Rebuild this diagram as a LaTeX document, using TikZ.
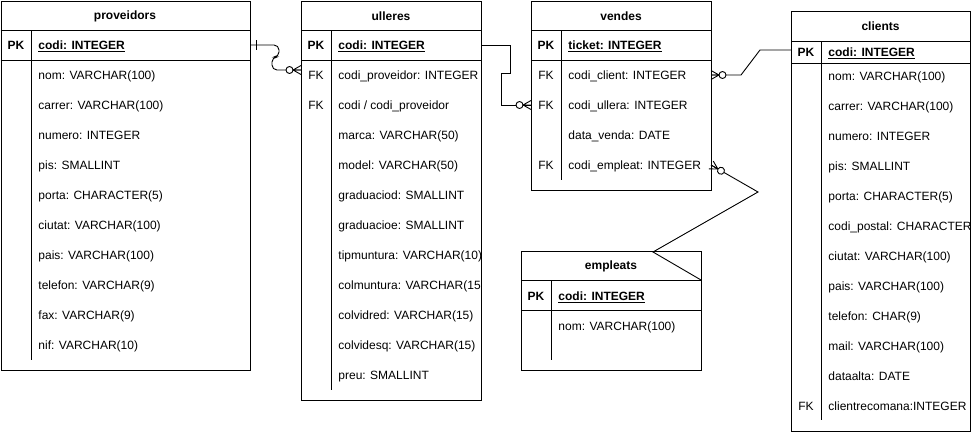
\documentclass[tikz,border=0pt]{standalone}
\usepackage{fontspec}
\setmainfont{Liberation Sans}

\begin{document}
\begin{tikzpicture}[x=1pt,y=-1pt,line width=0.9pt,
  font=\fontsize{12}{14}\selectfont,
  every node/.style={inner sep=0pt},
  taula/.style={draw,anchor=north west,line width=0.9pt},
  titol/.style={font=\fontsize{12}{14}\selectfont\bfseries},
  clau/.style={anchor=base},
  camp/.style={anchor=base west},
  zeromolts/.pic={
    \draw (0,-4.5) -- (8,0) -- (0,4.5) (0,0) -- (8,0);
    \draw[fill=white] (11.5,0) circle (3.5);
  }]
\useasboundingbox (0,0) rectangle (971,431);

% proveidors
\node[taula,minimum width=249.5pt,minimum height=369.5pt] (proveidors) at (0.5,0.5) {};
\draw (0.5,30) -- (250,30) (0.5,60) -- (250,60) (31,30) -- (31,360);
\node[titol] (proveidors-titol) at (125,16) {proveidors};
\node[titol,clau] (proveidors-pk) at (16,49.3) {PK};
\node[titol,camp] (proveidors-codi) at (38,49.3) {\underline{codi: INTEGER}};
\foreach \camp [count=\i from 0] in {nom: VARCHAR(100), carrer: VARCHAR(100),
    numero: INTEGER, pis: SMALLINT, porta: CHARACTER(5), ciutat: VARCHAR(100),
    pais: VARCHAR(100), telefon: VARCHAR(9), fax: VARCHAR(9), nif: VARCHAR(10)}
  \node[camp] (proveidors-\i) at (38,{79.3+30*\i}) {\camp};

% ulleres
\node[taula,minimum width=180pt,minimum height=399.5pt] (ulleres) at (301,0.5) {};
\draw (301,30) -- (481,30) (301,60) -- (481,60) (331,30) -- (331,390);
\node[titol] (ulleres-titol) at (391,16) {ulleres};
\node[titol,clau] (ulleres-pk) at (316,49.3) {PK};
\node[titol,camp] (ulleres-codi) at (338,49.3) {\underline{codi: INTEGER}};
\node[clau] (ulleres-fk1) at (316,79.3) {FK};
\node[clau] (ulleres-fk2) at (316,109.3) {FK};
\begin{scope}
\clip (331,60) rectangle (480.5,400);
\foreach \camp [count=\i from 0] in {codi\_proveidor: INTEGER, {codi / codi\_proveidor},
    marca: VARCHAR(50), model: VARCHAR(50), graduaciod: SMALLINT,
    graduacioe: SMALLINT, tipmuntura: VARCHAR(10), colmuntura: VARCHAR(15,
    colvidred: VARCHAR(15), colvidesq: VARCHAR(15), preu: SMALLINT}
  \node[camp] (ulleres-\i) at (338,{79.3+30*\i}) {\camp};
\end{scope}

% vendes
\node[taula,minimum width=180pt,minimum height=189.5pt] (vendes) at (531,0.5) {};
\draw (531,30) -- (711,30) (531,60) -- (711,60) (561,30) -- (561,180);
\node[titol] (vendes-titol) at (621,16) {vendes};
\node[titol,clau] (vendes-pk) at (546,49.3) {PK};
\node[titol,camp] (vendes-ticket) at (568,49.3) {\underline{ticket: INTEGER}};
\foreach \camp [count=\i from 0] in {codi\_client: INTEGER, codi\_ullera: INTEGER,
    data\_venda: DATE, codi\_empleat: INTEGER}
  \node[camp] (vendes-\i) at (568,{79.3+30*\i}) {\camp};
\foreach \i in {0,1,3}
  \node[clau] (vendes-fk\i) at (546,{79.3+30*\i}) {FK};

% clients
\node[taula,minimum width=179pt,minimum height=419.5pt] (clients) at (791,11) {};
\draw (791,41) -- (970,41) (791,63) -- (970,63) (821,41) -- (821,420);
\node[titol] (clients-titol) at (880.5,26) {clients};
\node[titol,clau] (clients-pk) at (806,56.3) {PK};
\node[titol,camp] (clients-codi) at (828,56.3) {\underline{codi: INTEGER}};
\node[clau] (clients-fk) at (806,410.3) {FK};
\begin{scope}
\clip (821,63) rectangle (969.5,430);
\foreach \camp [count=\i from 0] in {nom: VARCHAR(100), carrer: VARCHAR(100),
    numero: INTEGER, pis: SMALLINT, porta: CHARACTER(5), codi\_postal: CHARACTER,
    ciutat: VARCHAR(100), pais: VARCHAR(100), telefon: CHAR(9), mail: VARCHAR(100),
    dataalta: DATE, clientrecomana:INTEGER}
  \node[camp] (clients-\i) at (828,{80.3+30*\i}) {\camp};
\end{scope}

% empleats
\node[taula,minimum width=180pt,minimum height=119pt] (empleats) at (521,251) {};
\draw (521,280) -- (701,280) (521,310) -- (701,310) (551,280) -- (551,360);
\node[titol] (empleats-titol) at (611,266) {empleats};
\node[titol,clau] (empleats-pk) at (536,300.3) {PK};
\node[titol,camp] (empleats-codi) at (558,300.3) {\underline{codi: INTEGER}};
\node[camp] (empleats-0) at (558,330.3) {nom: VARCHAR(100)};

% relacions
\coordinate (r-prov) at (250,45);
\coordinate (r-ull-prov) at (301,70);
\coordinate (r-ull) at (481,45);
\coordinate (r-ven-ull) at (531,105);
\coordinate (r-ven-cli) at (711,75);
\coordinate (r-cli) at (791,50);
\coordinate (r-ven-emp) at (711,165);
\coordinate (r-emp) at (701,280);

\draw[rounded corners=5pt] (r-prov) -- (279,45) -- (279,57) -- (272,57) -- (272,70) -- (r-ull-prov);
\draw (256,40) -- (256,50);
\draw (r-ull) -- (510,45) -- (510,73) -- (501,73) -- (501,105) -- (r-ven-ull);
\draw (r-ven-cli) -- (741,75) -- (760,50) -- (r-cli);
\draw (r-ven-emp) -- (758,192) -- (653,252) -- (r-emp);

\pic[rotate=180] at (r-ull-prov) {zeromolts};
\pic[rotate=180] at (r-ven-ull) {zeromolts};
\pic at (r-ven-cli) {zeromolts};
\pic[rotate=-30] at (r-ven-emp) {zeromolts};
\end{tikzpicture}
\end{document}
